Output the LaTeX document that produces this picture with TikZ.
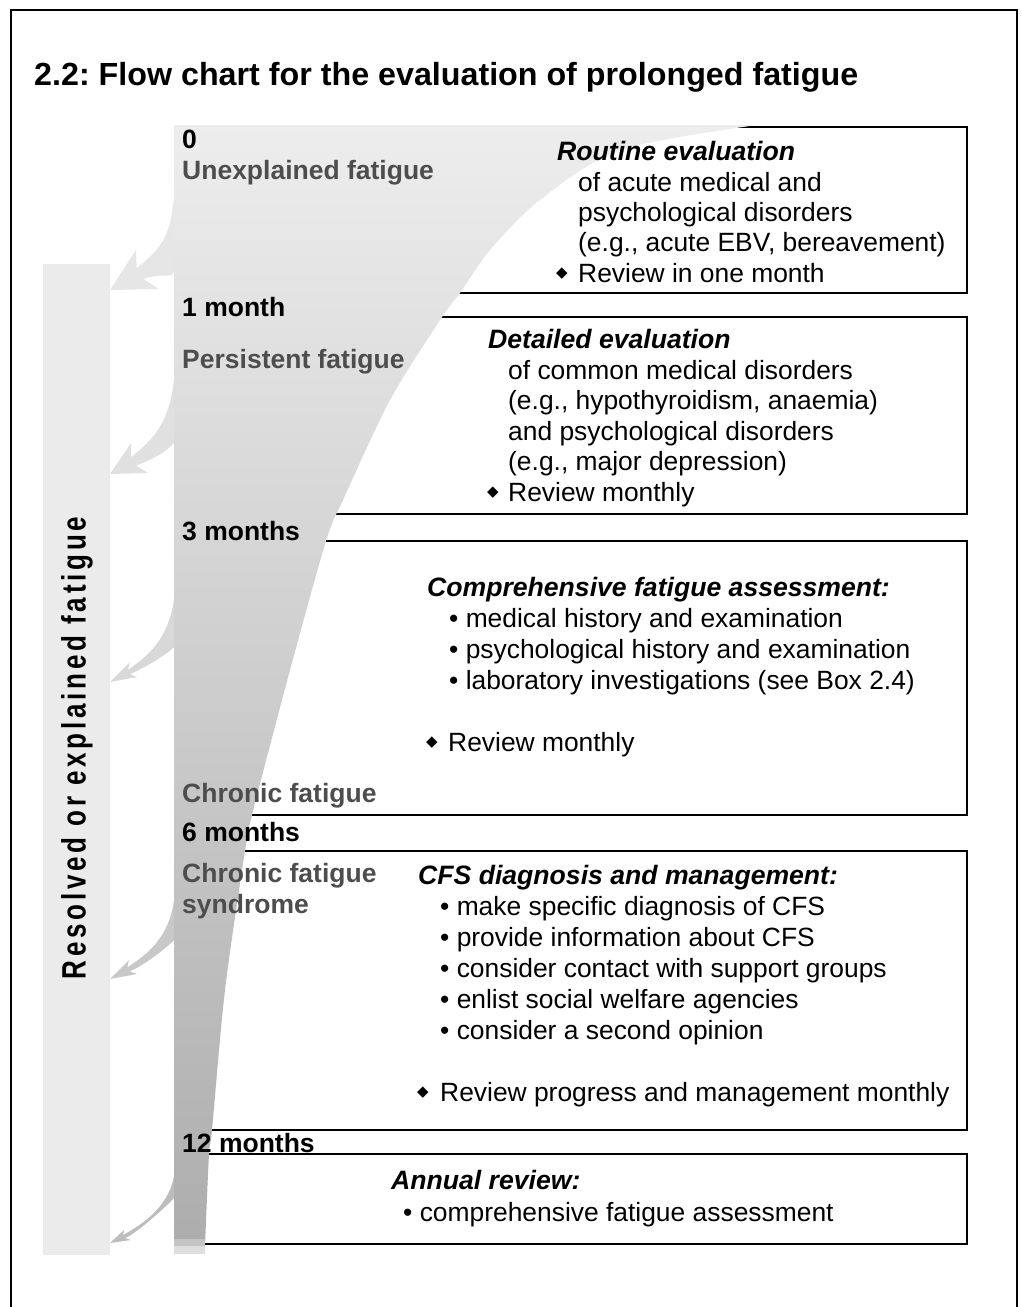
\documentclass[tikz,border=0pt]{standalone}
\usepackage{fontspec}
\usepackage{graphicx}
\setmainfont{Liberation Sans}
\newfontfamily\dejavu{DejaVu Sans}
\usetikzlibrary{calc}
\definecolor{barcol}{HTML}{EBEBEB}
\definecolor{ftop}{HTML}{EDEDED}
\definecolor{fbot}{HTML}{ADADAD}
\definecolor{arA}{HTML}{E6E6E6}
\definecolor{arB}{HTML}{E0E0E0}
\definecolor{arC}{HTML}{D8D8D8}
\definecolor{arD}{HTML}{C8C8C8}
\definecolor{arE}{HTML}{BDBDBD}
\definecolor{bandA}{HTML}{C4C4C4}
\definecolor{bandB}{HTML}{DEDEDE}
\definecolor{lblgray}{HTML}{4D4D4D}
% curved tapering arrow: outer start y, inner start y, tip y, barb1 dx, dy, barb2 dx, dy, colour
\newcommand\fatarrow[8]{%
  \coordinate (aT) at (110,#3);
  \coordinate (aB1) at ($(aT)+(#4,#5)$);
  \coordinate (aB2) at ($(aT)+(#6,#7)$);
  \coordinate (aM) at ($(aB1)!0.5!(aB2)$);
  \coordinate (aC) at ($(aT)!0.72!(aM)$);
  \coordinate (aN1) at ($(aC)!0.28!(aB1)$);
  \coordinate (aN2) at ($(aC)!0.28!(aB2)$);
  \fill[#8] (180,#1) -- (175,#1) .. controls (175,{#1+0.55*(#3-#1)}) and ($(aN1)!-1.0!(aT)$) .. (aN1)
     -- (aB1) -- (aT) -- (aB2) -- (aN2)
     .. controls ($(aN2)!-0.7!(aT)$) and (168,{#2+8}) .. (175,#2) -- (180,#2) -- cycle;
}
\begin{document}
\begin{tikzpicture}[x=1pt,y=-1pt,
  tx/.style={anchor=base west,inner sep=0pt,font=\fontsize{26.4}{30}\selectfont},
  hd/.style={anchor=base west,inner sep=0pt,font=\fontsize{26.6}{30}\selectfont\bfseries\itshape},
  lb/.style={anchor=base west,inner sep=0pt,font=\fontsize{26.5}{30}\selectfont\bfseries},
  glb/.style={lb,text=lblgray},
  boxst/.style={draw=black,line width=2pt,fill=white},
  dm/.style={anchor=center,inner sep=0pt,font=\dejavu\fontsize{15}{15}\selectfont}]
\useasboundingbox (0,0) rectangle (1021,1307);
% frame
\draw[line width=2.5pt] (11,1310) -- (11,10) -- (1017,10) -- (1017,1310);
% title
\node[anchor=base west,inner sep=0pt] (title) at (34,85)
  {\resizebox{824pt}{\height}{\fontsize{32}{32}\selectfont\bfseries 2.2:\ Flow chart for the evaluation of prolonged fatigue}};
% left bar
\fill[barcol] (43,264) rectangle (110,1255);
\node[rotate=90,inner sep=0pt] (res) at (77,748)
  {\scalebox{1}[1.3]{\fontsize{26}{30}\selectfont\bfseries\addfontfeature{LetterSpace=14.5}Resolved or explained fatigue}};
% arrows
\fatarrow{167}{272}{290}{26}{-40}{49}{-1}{arA}
\fatarrow{357}{442}{474}{21}{-31}{38}{-1}{arB}
\fatarrow{582}{646}{682}{20}{-20}{27}{-5}{arC}
\fatarrow{885}{939}{979}{19}{-19}{27}{-5}{arD}
\fatarrow{1164}{1197}{1243}{14}{-13}{21}{-3}{arE}
% boxes
\draw[boxst] (186,127) rectangle (967,293);
\draw[boxst] (186,317) rectangle (967,514);
\draw[boxst] (186,541) rectangle (967,815);
\draw[boxst] (186,851) rectangle (967,1130);
\draw[boxst] (186,1154) rectangle (967,1244);
% funnel
\shade[top color=ftop,bottom color=fbot] (174,125) -- plot[smooth,tension=0.5] coordinates {(757,125) (620,150) (540,200) (490,250) (460,293) (442,317) (390,400) (343,500) (326,541) (290,670) (252,815) (245,851) (225,990) (212,1130) (209,1154) (205,1246)} -- (174,1246) -- cycle;
\fill[bandA] (174,1239) rectangle (205.3,1246);
\fill[bandB] (174,1246) rectangle (205,1254);
% left labels
\node[lb] (t0) at (182,148) {0};
\node[glb] (unexp) at (182,179) {Unexplained fatigue};
\node[lb] (t1) at (182,316) {1 month};
\node[glb] (persist) at (182,368) {Persistent fatigue};
\node[lb] (t3) at (182,540) {3 months};
\node[glb] (chronic) at (182,802) {Chronic fatigue};
\node[lb] (t6) at (182,841) {6 months};
\node[glb] (cfs1) at (182,882) {Chronic fatigue};
\node[glb] (cfs2) at (182,913) {syndrome};
\node[lb] (t12) at (182,1152) {12 months};
% box 1
\node[hd] (r0) at (557,160) {Routine evaluation};
\node[tx] (r1) at (578,191) {of acute medical and};
\node[tx] (r2) at (578,221) {psychological disorders};
\node[tx] (r3) at (578,251) {(e.g., acute EBV, bereavement)};
\node[dm] (rd) at (562,274) {◆};
\node[tx] (r4) at (578,282) {Review in one month};
% box 2
\node[hd] (d0) at (488,348) {Detailed evaluation};
\node[tx] (d1) at (508,379) {of common medical disorders};
\node[tx] (d2) at (508,409) {(e.g., hypothyroidism, anaemia)};
\node[tx] (d3) at (508,440) {and psychological disorders};
\node[tx] (d4) at (508,470) {(e.g., major depression)};
\node[dm] (dd) at (493,493) {◆};
\node[tx] (d5) at (508,501) {Review monthly};
% box 3
\node[hd] (c0) at (427,596) {Comprehensive fatigue assessment:};
\node[tx] (c1) at (449,627) {• medical history and examination};
\node[tx] (c2) at (449,658) {• psychological history and examination};
\node[tx] (c3) at (449,689) {• laboratory investigations (see Box 2.4)};
\node[dm] (cd) at (432,743) {◆};
\node[tx] (c4) at (448,751) {Review monthly};
% box 4
\node[hd] (m0) at (418,884) {CFS diagnosis and management:};
\node[tx] (m1) at (440,915) {• make specific diagnosis of CFS};
\node[tx] (m2) at (440,946) {• provide information about CFS};
\node[tx] (m3) at (440,977) {• consider contact with support groups};
\node[tx] (m4) at (440,1008) {• enlist social welfare agencies};
\node[tx] (m5) at (440,1039) {• consider a second opinion};
\node[dm] (md) at (423,1093) {◆};
\node[tx] (m6) at (440,1101) {Review progress and management monthly};
% box 5
\node[hd] (a0) at (391,1189) {Annual review:};
\node[tx] (a1) at (403,1221) {• comprehensive fatigue assessment};
\end{tikzpicture}
\end{document}
